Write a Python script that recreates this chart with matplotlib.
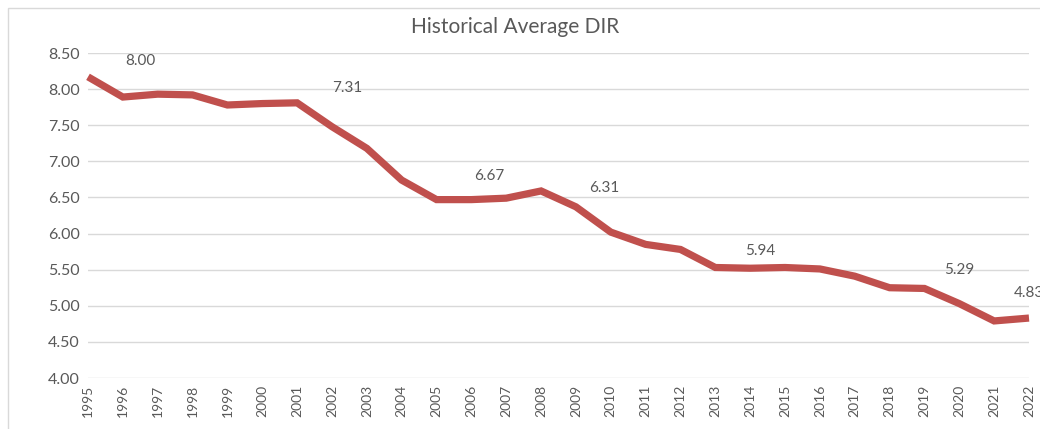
import matplotlib
matplotlib.use('Agg')
import matplotlib.pyplot as plt
from matplotlib.patches import Rectangle

# 연도별 DIR 값
years = list(range(1995, 2023))
dir_values = [8.17, 7.89, 7.93, 7.92, 7.78, 7.80, 7.81, 7.48, 7.18, 6.74,
              6.47, 6.47, 6.49, 6.59, 6.37, 6.02, 5.85, 5.78, 5.53, 5.52,
              5.53, 5.51, 5.41, 5.25, 5.24, 5.03, 4.79, 4.83]

# 라벨 텍스트
label_texts = ['8.00', '7.31', '6.67', '6.31', '5.94', '5.29', '4.83']
label_x = [1996.5, 2002.45, 2006.5, 2009.8, 2014.3, 2020.0, 2022.0]
label_y = [8.39, 8.02, 6.80, 6.63, 5.76, 5.50, 5.18]

yticks = [4.0, 4.5, 5.0, 5.5, 6.0, 6.5, 7.0, 7.5, 8.0, 8.5]

plt.rcParams['font.family'] = ['Lato', 'DejaVu Sans']
text_color = '#595959'
grid_color = '#D9D9D9'

fig = plt.figure(figsize=(10.4, 4.29), dpi=100)
ax = fig.add_axes([88 / 1040, 1 - 378 / 429, (1029 - 88) / 1040, (378 - 53) / 429])

# 바깥 테두리
fig.patches.append(Rectangle((8 / 1040, -0.1), 1.2, 1 - 8 / 429 + 0.1,
                             transform=fig.transFigure, fill=False,
                             edgecolor=grid_color, linewidth=1))

ax.plot(years, dir_values, color='#C0504D', linewidth=5.2, solid_joinstyle='miter',
        solid_capstyle='butt', clip_on=False, zorder=3)

for t, x, y in zip(label_texts, label_x, label_y):
    ax.text(x, y, t, ha='center', va='center', fontsize=11, color=text_color,
            clip_on=False)

ax.set_xlim(1995, 2022)
ax.set_ylim(4.0, 8.5)
ax.set_yticks(yticks)
ax.set_yticklabels([f'{v:.2f}' for v in yticks], fontsize=11.5, color=text_color)
ax.set_xticks(years)
ax.set_xticklabels([str(y) for y in years], rotation=90, fontsize=10, color=text_color)
ax.tick_params(length=0, pad=6)
ax.tick_params(axis='x', pad=5)
ax.grid(axis='y', color=grid_color, linewidth=1)
ax.set_axisbelow(True)
for s in ax.spines.values():
    s.set_visible(False)

fig.text(515 / 1040, 1 - 27 / 429, 'Historical Average DIR', ha='center', va='center',
         fontsize=15, color=text_color)

fig.savefig('out.png', dpi=100)
